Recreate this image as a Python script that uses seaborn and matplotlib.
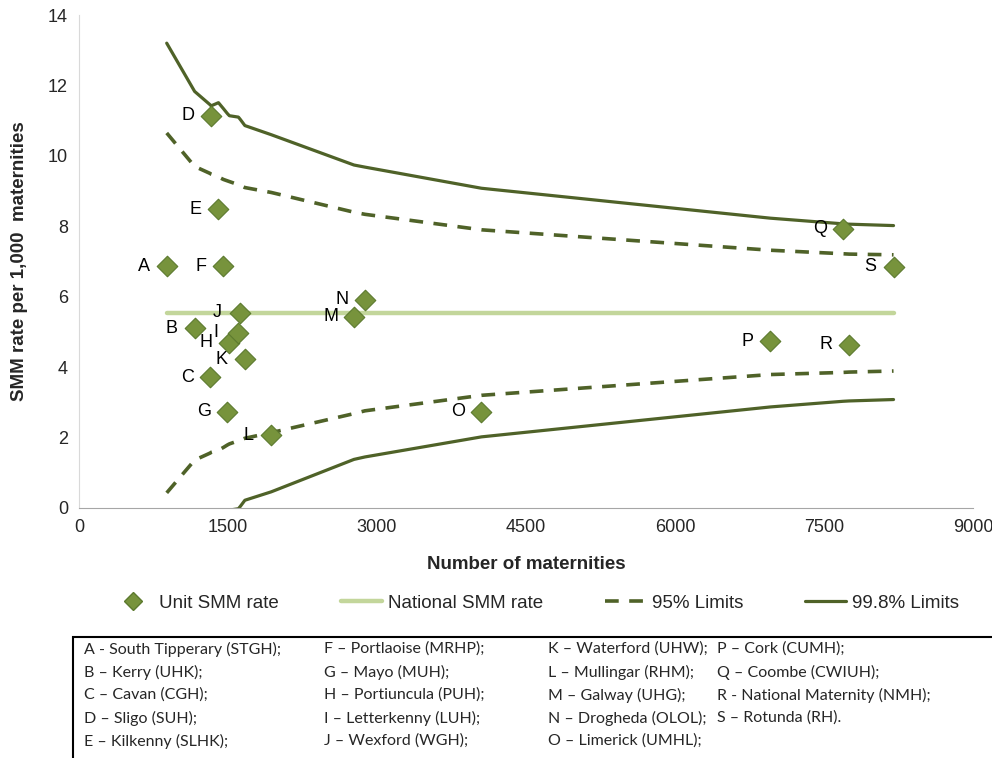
import numpy as np
import pandas as pd
import seaborn as sns
from matplotlib import pyplot as plt
from matplotlib.lines import Line2D

sns.set_style('white')
plt.rcParams['font.family'] = ['Liberation Sans', 'DejaVu Sans']

# unit SMM rates
units = ['A', 'B', 'C', 'D', 'E', 'F', 'G', 'H', 'I', 'J',
         'K', 'L', 'M', 'N', 'O', 'P', 'Q', 'R', 'S']
maternities = [883, 1164, 1320, 1330, 1404, 1454, 1494, 1514, 1605, 1625,
               1670, 1936, 2768, 2879, 4052, 6961, 7690, 7753, 8200]
smm_rate = [6.87, 5.11, 3.72, 11.14, 8.49, 6.87, 2.74, 4.69, 4.97, 5.54,
            4.23, 2.07, 5.43, 5.91, 2.73, 4.74, 7.93, 4.63, 6.85]

national_rate = 5.54

# funnel limits, read at each unit
upper_95 = [10.65, 9.70, 9.50, 9.48, 9.40, 9.33, 9.29, 9.27, 9.18, 9.16,
            9.10, 8.96, 8.40, 8.34, 7.90, 7.32, 7.22, 7.21, 7.19]
lower_95 = [0.43, 1.36, 1.56, 1.58, 1.64, 1.72, 1.79, 1.82, 1.91, 1.93,
            1.98, 2.14, 2.68, 2.76, 3.20, 3.79, 3.85, 3.86, 3.89]
upper_998 = [13.20, 11.83, 11.45, 11.42, 11.51, 11.34, 11.20, 11.14, 11.10, 11.03,
             10.86, 10.60, 9.74, 9.68, 9.08, 8.23, 8.07, 8.06, 8.02]
lower_998 = [-2.12, -0.75, -0.38, -0.36, -0.43, -0.26, -0.12, -0.06, -0.02, 0.05,
             0.22, 0.46, 1.38, 1.45, 2.02, 2.87, 3.03, 3.04, 3.08]

key_text = [
    ['A - South Tipperary (STGH);', 'B \u2013 Kerry (UHK);', 'C \u2013 Cavan (CGH);',
     'D \u2013 Sligo (SUH);', 'E \u2013 Kilkenny (SLHK);'],
    ['F \u2013 Portlaoise (MRHP);', 'G \u2013 Mayo (MUH);', 'H \u2013 Portiuncula (PUH);',
     'I \u2013 Letterkenny (LUH);', 'J \u2013 Wexford (WGH);'],
    ['K \u2013 Waterford (UHW);', 'L \u2013 Mullingar (RHM);', 'M \u2013 Galway (UHG);',
     'N \u2013 Drogheda (OLOL);', 'O \u2013 Limerick (UMHL);'],
    ['P \u2013 Cork (CUMH);', 'Q \u2013 Coombe (CWIUH);', 'R - National Maternity (NMH);',
     'S \u2013 Rotunda (RH).'],
]

dark = '#4F6228'
light = '#C3D69B'
marker_fill = '#77933C'
dash = (0, (3.8, 2.9))

df = pd.DataFrame({'unit': units, 'n': maternities, 'rate': smm_rate,
                   'up95': upper_95, 'lo95': lower_95,
                   'up998': upper_998, 'lo998': lower_998})
df['national'] = national_rate

fig = plt.figure(figsize=(9.92, 7.58), dpi=100)
ax = fig.add_axes([79/992, 1 - 508/758, 894/992, 493/758])

sns.lineplot(data=df, x='n', y='national', color=light, lw=3.2, ax=ax,
             estimator=None, solid_capstyle='round')
for col in ['up95', 'lo95']:
    sns.lineplot(data=df, x='n', y=col, color=dark, lw=2.6, ax=ax,
                 estimator=None, linestyle=dash)
for col in ['up998', 'lo998']:
    sns.lineplot(data=df, x='n', y=col, color=dark, lw=2.3, ax=ax, estimator=None)
sns.scatterplot(data=df, x='n', y='rate', marker='D', s=110, color=marker_fill,
                edgecolor='#5C7A2E', linewidth=0.8, ax=ax, zorder=5)

for lab, x, y in zip(units, maternities, smm_rate):
    ax.annotate(lab, (x, y), xytext=(-16.5, 0), textcoords='offset points',
                ha='center', va='center', fontsize=13, color='black')

ax.set_xlim(0, 9000)
ax.set_ylim(0, 14)
ax.set_xticks(range(0, 9001, 1500))
ax.set_yticks(range(0, 15, 2))
ax.tick_params(labelsize=13, length=0, pad=8)
for s in ['top', 'right']:
    ax.spines[s].set_visible(False)
ax.spines['left'].set_color('#D9D9D9')
ax.spines['bottom'].set_color('#A6A6A6')
ax.set_xlabel('Number of maternities', fontsize=13.5, fontweight='bold', labelpad=14)
ax.set_ylabel('SMM rate per 1,000  maternities', fontsize=13.5, fontweight='bold', labelpad=14)

handles = [
    Line2D([], [], marker='D', ls='none', color=marker_fill, markeredgecolor='#5C7A2E',
           markersize=9),
    Line2D([], [], color=light, lw=3.2),
    Line2D([], [], color=dark, lw=2.6, ls=dash),
    Line2D([], [], color=dark, lw=2.3),
]
fig.legend(handles, ['Unit SMM rate', 'National SMM rate', '95% Limits', '99.8% Limits'],
           loc='center', bbox_to_anchor=(0.54, 1 - 603/758), ncol=4, frameon=False,
           fontsize=13.5, handlelength=2.2, handletextpad=0.3, columnspacing=3.3)

# key box
box = plt.Rectangle((73/992, -0.05), 1.0, (1 - 637/758) + 0.05, transform=fig.transFigure,
                    fill=False, edgecolor='black', lw=1.5, clip_on=False)
fig.add_artist(box)
col_x = [84, 324, 548, 717]
for cx, entries in zip(col_x, key_text):
    for i, t in enumerate(entries):
        fig.text(cx/992, 1 - (649 + 23*i)/758, t, family=['Lato', 'DejaVu Sans'],
                 fontsize=11.5, ha='left', va='center')

fig.savefig('out.png', dpi=100)
